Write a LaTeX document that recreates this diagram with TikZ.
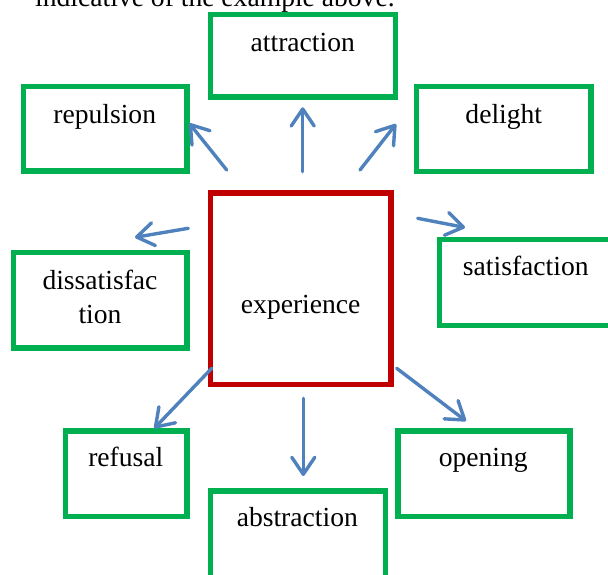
\documentclass[tikz,border=0pt]{standalone}
\usepackage{fontspec}
\setmainfont{Liberation Serif}
\usetikzlibrary{arrows.meta}
\definecolor{boxgreen}{RGB}{0,176,80}
\definecolor{boxred}{RGB}{192,0,0}
\definecolor{arrblue}{RGB}{79,129,189}
\tikzset{
  gbox/.style={draw=boxgreen, line width=5.5pt, rectangle, inner sep=0pt},
  rbox/.style={draw=boxred, line width=5.5pt, rectangle, inner sep=0pt},
  lbl/.style={inner sep=0pt, anchor=base, font=\fontsize{27.6pt}{34pt}\selectfont, text=black},
  toptext/.style={inner sep=0pt, anchor=base west, font=\fontsize{27.6pt}{34pt}\selectfont, text=black},
  arr/.style={draw=arrblue, line width=3.4pt, line cap=round,
    -{Straight Barb[length=17pt,width=23pt,line cap=round,line join=round]}}
}
\begin{document}
\begin{tikzpicture}[x=1pt,y=-1pt]
\useasboundingbox (0,0) rectangle (608,574);
\clip (0,0) rectangle (608,574);
\fill[white] (0,0) rectangle (608,574);

% cut-off line of text at the top
\node[toptext] (top) at (35,6) {indicative of the example above.};

% boxes (centre, centre-line size)
\node[gbox, minimum width=185.2pt, minimum height=82.7pt] (attraction) at (302.9,55.85) {};
\node[gbox, minimum width=163.7pt, minimum height=84.5pt] (repulsion) at (105.15,128.75) {};
\node[gbox, minimum width=174.5pt, minimum height=84.8pt] (delight) at (503.55,129.1) {};
\node[gbox, minimum width=173.3pt, minimum height=95.3pt] (dissat) at (100.35,300.15) {};
\node[gbox, minimum width=173.3pt, minimum height=85.8pt] (satis) at (526.35,282.6) {};
\node[rbox, minimum width=180.9pt, minimum height=191.5pt] (experience) at (300.75,288.75) {};
\node[gbox, minimum width=121.5pt, minimum height=85.7pt] (refusal) at (126.25,473.85) {};
\node[gbox, minimum width=172.2pt, minimum height=85.5pt] (opening) at (483.9,473.75) {};
\node[gbox, minimum width=175.2pt, minimum height=90pt] (abstraction) at (297.9,536.2) {};

% texts
\node[lbl] (attraction-t) at (302.8,51.7) {attraction};
\node[lbl] (repulsion-t) at (104.7,123) {repulsion};
\node[lbl] (delight-t) at (503.8,123.3) {delight};
\node[lbl] (dissat-t1) at (100,289.3) {dissatisfac};
\node[lbl] (dissat-t2) at (100,323.3) {tion};
\node[lbl] (satis-t) at (525.8,275) {satisfaction};
\node[lbl] (experience-t) at (300.7,313.3) {experience};
\node[lbl] (refusal-t) at (125.8,466) {refusal};
\node[lbl] (opening-t) at (483.3,466.7) {opening};
\node[lbl] (abstraction-t) at (297.3,526.7) {abstraction};

% arrow end points
\coordinate (rep-s) at (226.7,170);   \coordinate (rep-e) at (189.3,123.3);
\coordinate (att-s) at (302.7,171.7); \coordinate (att-e) at (302.7,107.3);
\coordinate (del-s) at (360,170);     \coordinate (del-e) at (396,124);
\coordinate (dis-s) at (188.3,228.3); \coordinate (dis-e) at (135,237.3);
\coordinate (sat-s) at (417.7,218.3); \coordinate (sat-e) at (465,227.5);
\coordinate (ref-s) at (211.7,368.3); \coordinate (ref-e) at (154.3,428.3);
\coordinate (abs-s) at (303.3,398.3); \coordinate (abs-e) at (303.3,476);
\coordinate (ope-s) at (396.7,368.3); \coordinate (ope-e) at (466,421);

\draw[arr] (rep-s) -- (rep-e);
\draw[arr] (att-s) -- (att-e);
\draw[arr] (del-s) -- (del-e);
\draw[arr] (dis-s) -- (dis-e);
\draw[arr] (sat-s) -- (sat-e);
\draw[arr] (ref-s) -- (ref-e);
\draw[arr] (abs-s) -- (abs-e);
\draw[arr] (ope-s) -- (ope-e);
\end{tikzpicture}
\end{document}
